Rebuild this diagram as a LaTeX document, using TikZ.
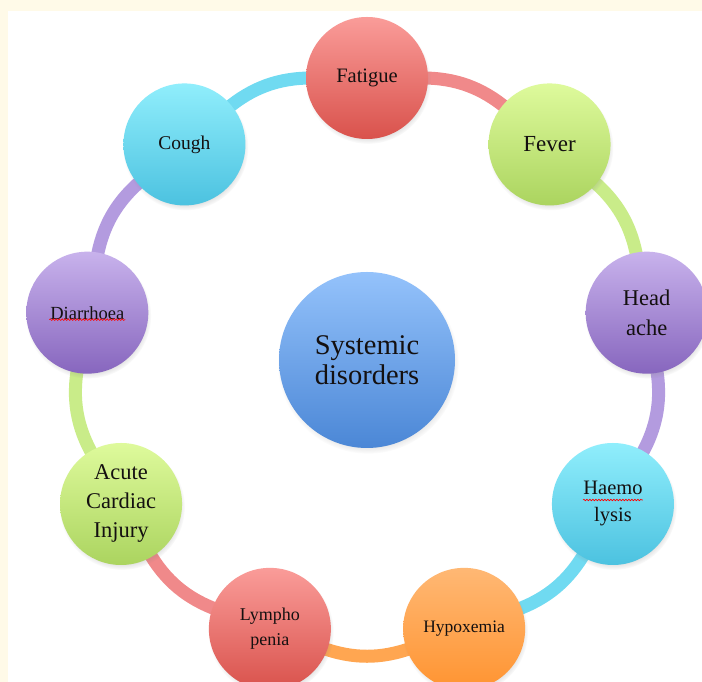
\documentclass[tikz,border=0pt]{standalone}
\usepackage{fontspec}
\setmainfont{Liberation Serif}
\usetikzlibrary{shadows,decorations.pathmorphing,calc}
\pgfdeclarelayer{panel}
\pgfdeclarelayer{ring}
\pgfsetlayers{panel,ring,main}
\definecolor{cream}{HTML}{FFFAE8}
\definecolor{txt}{HTML}{141010}
\definecolor{redT}{HTML}{FA9C99}
\definecolor{redB}{HTML}{D9524C}
\definecolor{redM}{HTML}{F0898A}
\definecolor{grnT}{HTML}{DEFA9C}
\definecolor{grnB}{HTML}{ABD45F}
\definecolor{grnM}{HTML}{C9EC89}
\definecolor{purT}{HTML}{C8B2EC}
\definecolor{purB}{HTML}{8766BE}
\definecolor{purM}{HTML}{B39BDF}
\definecolor{cyaT}{HTML}{90EEFC}
\definecolor{cyaB}{HTML}{4CC2E0}
\definecolor{cyaM}{HTML}{70DAF1}
\definecolor{orgT}{HTML}{FFB874}
\definecolor{orgB}{HTML}{FF9431}
\definecolor{orgM}{HTML}{FFA651}
\definecolor{bluT}{HTML}{94C2FB}
\definecolor{bluB}{HTML}{4B87D6}
\begin{document}
\begin{tikzpicture}[x=1pt,y=1pt,
  disc/.style={circle, minimum size=122pt, inner sep=0pt, align=center, text=txt,
    circular drop shadow={shadow xshift=1pt, shadow yshift=-3pt, shadow scale=1.03, opacity=0.35}},
  hub/.style={disc, minimum size=176pt},
  redd/.style={top color=redT, bottom color=redB},
  grnd/.style={top color=grnT, bottom color=grnB},
  purd/.style={top color=purT, bottom color=purB},
  cyad/.style={top color=cyaT, bottom color=cyaB},
  orgd/.style={top color=orgT, bottom color=orgB},
  blud/.style={top color=bluT, bottom color=bluB},
  link/.style={line width=13pt, bend left=20, looseness=0.88, shorten <=-6pt, shorten >=-6pt},
  squig/.style={red, line width=0.6pt, decorate, decoration={snake, amplitude=0.8pt, segment length=3pt}},
  fs/.style n args={2}{font=\fontsize{#1}{#2}\selectfont}
]
\useasboundingbox (0,0) rectangle (702,682);
\begin{pgfonlayer}{panel}
\fill[cream] (0,0) rectangle (702,682);
\fill[white] (7.5,0) rectangle (702,671);
\end{pgfonlayer}

\coordinate (C) at (367,320);
\node[hub, blud, fs={28.5}{30}] (hubnode) at (367,322) {Systemic\\disorders};

\node[disc, redd, fs={20.5}{22}] (fatigue) at ($(C)+(90:284)$) {Fatigue};
\node[disc, grnd, fs={23}{24}] (fever) at ($(C)+(50:284)$) {Fever};
\node[disc, purd, fs={22.5}{30}] (headache) at ($(C)+(10:284)$) {Head\\ache};
\node[disc, cyad, fs={20.5}{27}] (haemo) at ($(C)+(-30:284)$) {Haemo\\lysis};
\node[disc, orgd, fs={17.5}{20}] (hypox) at ($(C)+(-70:284)$) {Hypoxemia};
\node[disc, redd, fs={18}{25}] (lympho) at ($(C)+(-110:284)$) {Lympho\\penia};
\node[disc, grnd, fs={22.5}{29}] (acute) at ($(C)+(-150:284)$) {Acute\\Cardiac\\Injury};
\node[disc, purd, fs={18.5}{20}] (diarr) at ($(C)+(170:284)$) {Diarrhoea};
\node[disc, cyad, fs={19.5}{22}] (cough) at ($(C)+(130:284)$) {Cough};

\begin{pgfonlayer}{ring}
\draw[link, redM] (fatigue) to (fever);
\draw[link, grnM] (fever) to (headache);
\draw[link, purM] (headache) to (haemo);
\draw[link, cyaM] (haemo) to (hypox);
\draw[link, orgM] (hypox) to (lympho);
\draw[link, redM] (lympho) to (acute);
\draw[link, grnM] (acute) to (diarr);
\draw[link, purM] (diarr) to (cough);
\draw[link, cyaM] (cough) to (fatigue);
\end{pgfonlayer}

\draw[squig] ($(diarr.center)+(-38,-7)$) -- ($(diarr.center)+(38,-7)$);
\draw[squig] ($(haemo.center)+(-30,4)$) -- ($(haemo.center)+(30,4)$);
\end{tikzpicture}
\end{document}
